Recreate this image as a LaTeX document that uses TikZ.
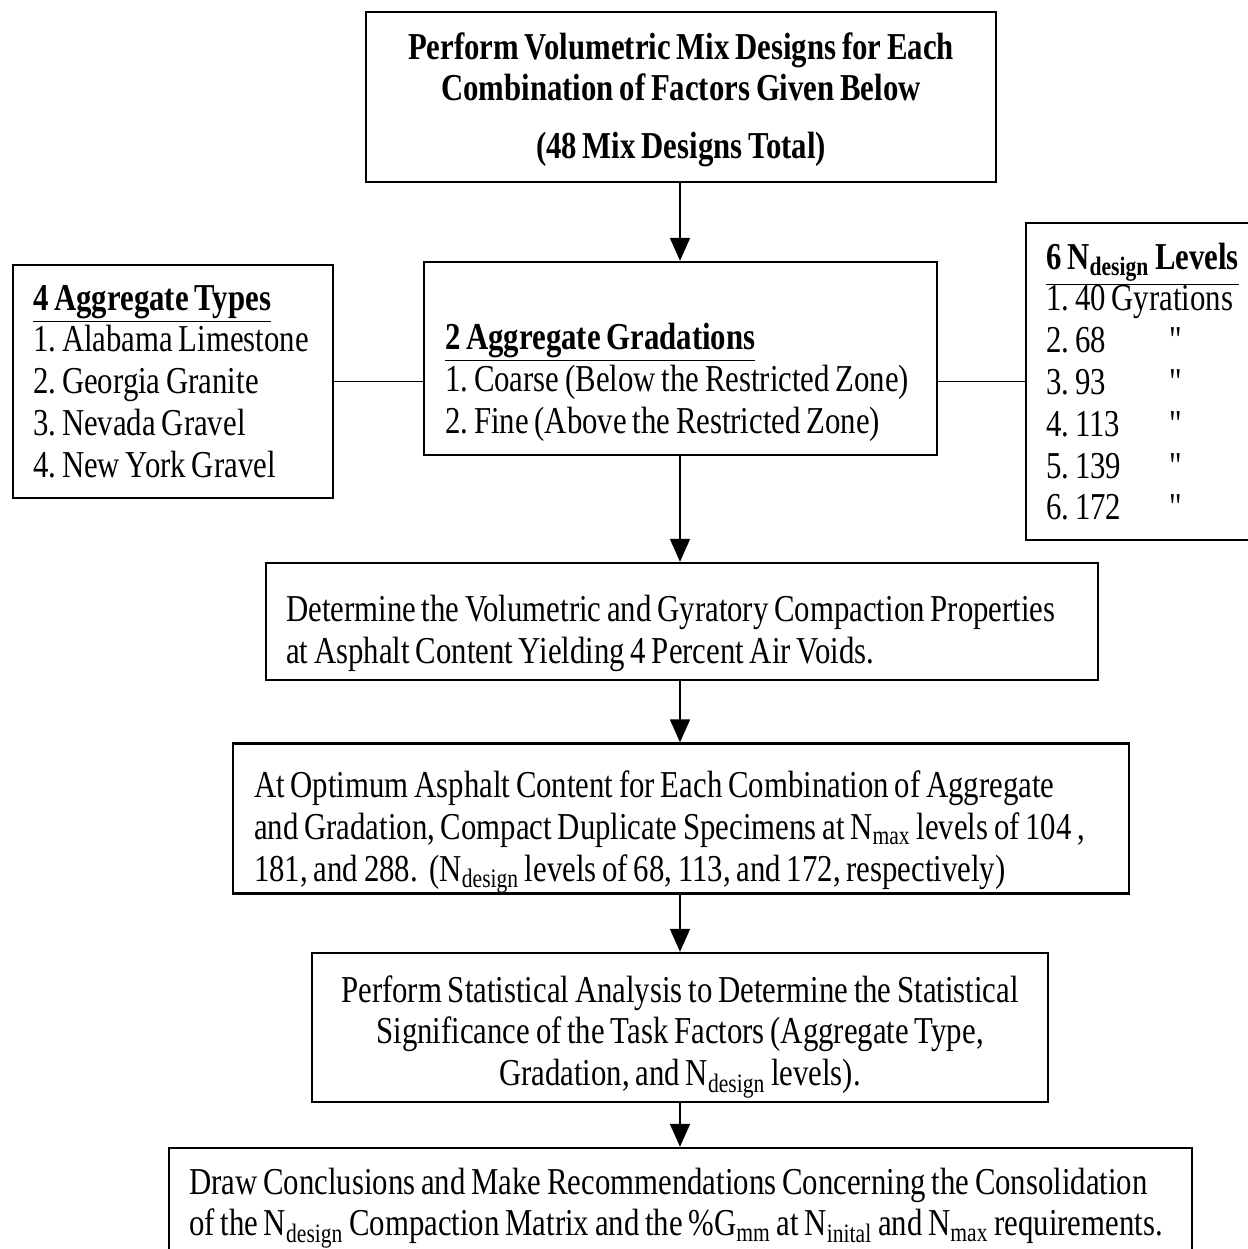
\documentclass[tikz,border=0pt]{standalone}
\usepackage{fontspec}
\setmainfont{Liberation Serif}[FakeStretch=0.81, WordSpace=0.75]
\newfontfamily\dittofont{Liberation Serif}[FakeStretch=0.81]
\usetikzlibrary{positioning,arrows.meta}
\newcommand{\topgap}[1]{\rule{0pt}{#1}}
\newcommand{\ditto}{{\dittofont "}}

\begin{document}
\begin{tikzpicture}[
    x=0.5pt, y=-0.5pt,
    >={Triangle[length=11.5pt,width=10pt]},
    box/.style={rectangle, draw, line width=1.2pt, inner ysep=0pt, inner xsep=10pt,
        align=flush left, anchor=west, font=\fontsize{19}{20.9}\selectfont\frenchspacing},
    head/.style={box, anchor=center, align=center, font=\fontsize{19}{20.9}\selectfont\bfseries},
    link/.style={line width=0.9pt}
]
\useasboundingbox (0,0) rectangle (1248,1249);
\coordinate (axis) at (680,0);

% Mix design box and the three factors
\node[head, minimum width=315pt, minimum height=85pt] (mix) at (681,97)
    {\topgap{16pt}Perform Volumetric Mix Designs for Each\\Combination of Factors Given Below\\[8pt](48 Mix Designs Total)};
\node[box, inner xsep=10.5pt, text width=235.5pt, minimum height=96.5pt] (grad) at (423,358.5)
    {\topgap{37pt}\underline{\textbf{2 Aggregate Gradations}}\\
     1. Coarse (Below the Restricted Zone)\\
     2. Fine (Above the Restricted Zone)};
\node[box, text width=140pt, minimum height=116.5pt] (agg) at (12,381.5)
    {\underline{\textbf{4 Aggregate Types}}\\
     1. Alabama Limestone\\
     2. Georgia Granite\\
     3. Nevada Gravel\\
     4. New York Gravel};
\node[box, text width=100pt, minimum height=158.5pt] (lev) at (1025,381.5)
    {\underline{\textbf{6 N\textsubscript{design} Levels}}\\
     1. 40 Gyrations\\
     \makebox[61.5pt][l]{2. 68}\ditto\\
     \makebox[61.5pt][l]{3. 93}\ditto\\
     \makebox[61.5pt][l]{4. 113}\ditto\\
     \makebox[61.5pt][l]{5. 139}\ditto\\
     \makebox[61.5pt][l]{6. 172}\ditto};

% Steps
\node[box, text width=396pt, minimum height=58.5pt] (vol) at (265,621.5)
    {\topgap{25pt}Determine the Volumetric and Gyratory Compaction Properties\\
     at Asphalt Content Yielding 4 Percent Air Voids.};
\node[box, inner xsep=10.5pt, text width=427pt, minimum height=73.5pt] (comp) at (232,818.5)
    {\topgap{27pt}At Optimum Asphalt Content for Each Combination of Aggregate\\
     and Gradation, Compact Duplicate Specimens at N\textsubscript{max} levels of 104 ,\\
     181, and 288.~ (N\textsubscript{design} levels of 68, 113, and 172, respectively)};
\node[box, anchor=center, align=center, minimum width=368pt, minimum height=74.5pt] (stat) at (680,1027.5)
    {\topgap{22.5pt}Perform Statistical Analysis to Determine the Statistical\\
     Significance of the Task Factors (Aggregate Type,\\
     Gradation, and N\textsubscript{design} levels).};
\node[box, text width=491.5pt, minimum height=60pt] (concl) at (168,1208)
    {Draw Conclusions and Make Recommendations Concerning the Consolidation\\
     of the N\textsubscript{design} Compaction Matrix and the \%G\textsubscript{mm} at N\textsubscript{inital} and N\textsubscript{max} requirements.};

% Connectors
\draw[link,->] (axis |- mix.south) -- (axis |- grad.north);
\draw[link] (agg.east) -- (agg.east -| grad.west);
\draw[link] (grad.east |- lev.west) -- (lev.west);
\draw[link,->] (axis |- grad.south) -- (axis |- vol.north);
\draw[link,->] (axis |- vol.south) -- (axis |- comp.north);
\draw[link,->] (axis |- comp.south) -- (axis |- stat.north);
\draw[link,->] (axis |- stat.south) -- (axis |- concl.north);
\end{tikzpicture}
\end{document}
